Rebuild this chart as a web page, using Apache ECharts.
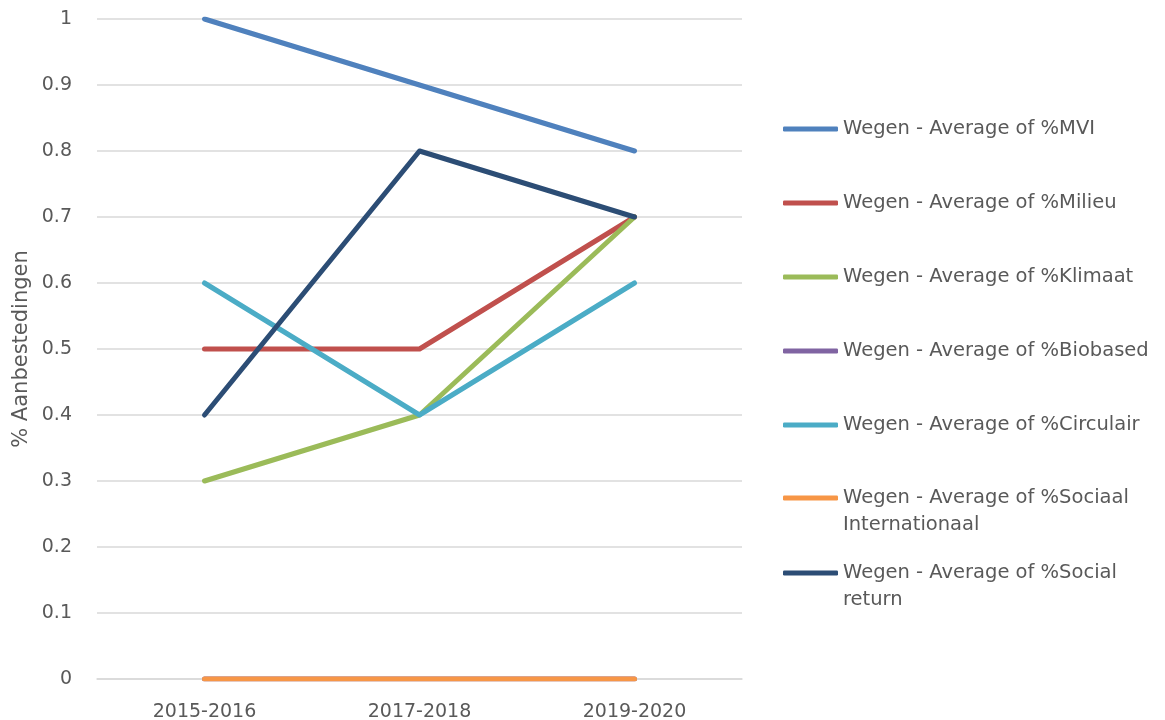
<!DOCTYPE html>
<html>
<head>
<meta charset="utf-8">
<script src="https://cdn.jsdelivr.net/npm/echarts@6/dist/echarts.min.js"></script>
<style>
  html, body { margin: 0; padding: 0; background: #ffffff; }
  #chart { width: 1165px; height: 720px; }
</style>
</head>
<body>
<div id="chart"></div>
<script>
// Periods on the category axis
const periods = ['2015-2016', '2017-2018', '2019-2020'];

// Average share of tenders per theme (Wegen)
const mvi = [1, 0.9, 0.8];
const milieu = [0.5, 0.5, 0.7];
const klimaat = [0.3, 0.4, 0.7];
const biobased = [0, 0, 0];
const circulair = [0.6, 0.4, 0.6];
const sociaalInternationaal = [0, 0, 0];
const socialReturn = [0.4, 0.8, 0.7];

const yTicks = [0, 0.1, 0.2, 0.3, 0.4, 0.5, 0.6, 0.7, 0.8, 0.9, 1];

const seriesDefs = [
  { name: 'Wegen - Average of %MVI', data: mvi, color: '#4F81BD' },
  { name: 'Wegen - Average of %Milieu', data: milieu, color: '#C0504D' },
  { name: 'Wegen - Average of %Klimaat', data: klimaat, color: '#9BBB59' },
  { name: 'Wegen - Average of %Biobased', data: biobased, color: '#8064A2' },
  { name: 'Wegen - Average of %Circulair', data: circulair, color: '#4BACC6' },
  { name: 'Wegen - Average of %Sociaal Internationaal', data: sociaalInternationaal, color: '#F79646' },
  { name: 'Wegen - Average of %Social return', data: socialReturn, color: '#2C4D75' }
];

// Wrapped legend labels; the leading blank line keeps the icon on the first text line
const wrapped = {
  'Wegen - Average of %Sociaal Internationaal': '\nWegen - Average of %Sociaal\nInternationaal',
  'Wegen - Average of %Social return': '\nWegen - Average of %Social\nreturn'
};

const FONT = 'DejaVu Sans';
const TEXT = '#595959';

const legendBase = {
  orient: 'vertical',
  left: 783,
  padding: 0,
  icon: 'roundRect',
  itemWidth: 55,
  itemHeight: 5,
  selectedMode: false,
  textStyle: { fontFamily: FONT, fontSize: 19.5, color: TEXT, lineHeight: 27 },
  formatter: function (n) { return wrapped[n] || n; }
};

const chart = echarts.init(document.getElementById('chart'), null, { renderer: 'canvas' });

chart.setOption({
  animation: false,
  backgroundColor: '#ffffff',
  textStyle: { fontFamily: FONT },
  grid: { left: 97, right: 423, top: 19, bottom: 41, containLabel: false, outerBoundsMode: 'none' },
  legend: [
    Object.assign({}, legendBase, { top: 115.5, itemGap: 47, data: seriesDefs.slice(0, 5).map(s => s.name) }),
    Object.assign({}, legendBase, { top: 457.5, data: [seriesDefs[5].name] }),
    Object.assign({}, legendBase, { top: 532.5, data: [seriesDefs[6].name] })
  ],
  xAxis: {
    type: 'category',
    data: periods,
    boundaryGap: true,
    axisLine: { show: true, lineStyle: { color: '#D9D9D9', width: 1.5 } },
    axisTick: { show: false },
    axisLabel: { color: TEXT, fontSize: 19, fontFamily: FONT, margin: 24 }
  },
  yAxis: {
    type: 'value',
    min: yTicks[0],
    max: yTicks[yTicks.length - 1],
    interval: 0.1,
    name: '% Aanbestedingen',
    nameLocation: 'middle',
    nameRotate: 90,
    nameGap: 65,
    nameMoveOverlap: false,
    nameTextStyle: { color: TEXT, fontSize: 21, fontFamily: FONT },
    axisLine: { show: false },
    axisTick: { show: false },
    axisLabel: {
      color: TEXT, fontSize: 19, fontFamily: FONT, margin: 25,
      formatter: function (v) { return String(Math.round(v * 10) / 10); }
    },
    splitLine: { lineStyle: { color: '#D9D9D9', width: 1.5 } }
  },
  series: seriesDefs.map(s => ({
    name: s.name,
    type: 'line',
    data: s.data,
    symbol: 'none',
    color: s.color,
    lineStyle: { color: s.color, width: 5, cap: 'round', join: 'round' }
  }))
});
</script>
</body>
</html>
